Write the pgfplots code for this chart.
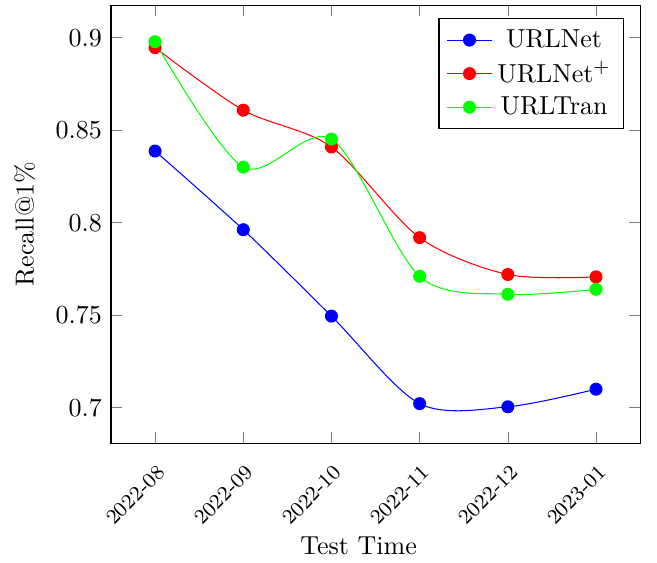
\documentclass[border=0pt]{standalone}
\usepackage{pgfplots}
\pgfplotsset{compat=1.18}
\begin{document}
\begin{tikzpicture}
\begin{axis}[
    scale only axis,
    width=203.5pt, height=168.5pt,
    xtick={0,1,2,3,4,5},
    xticklabels={2022-08,2022-09,2022-10,2022-11,2022-12,2023-01},
    xticklabel style={xshift=0.5pt, yshift=-3pt, rotate=45, anchor=north east,
        font=\footnotesize},
    ytick={0.7,0.75,0.8,0.85,0.9},
    yticklabels={0.7,0.75,0.8,0.85,0.9},
    xlabel={Test Time},
    xlabel style={xshift=-6.5pt, yshift=4pt},
    ylabel={Recall@1\%},
    ylabel shift=1pt,
    legend pos=north east,
    legend cell align=center,
]
\addplot[blue, smooth, mark=*, mark size=2.3pt] coordinates {
    (0,0.8387) (1,0.7962) (2,0.7495) (3,0.7022) (4,0.7005) (5,0.7100)};
\addlegendentry{URLNet}
\addplot[red, smooth, mark=*, mark size=2.3pt] coordinates {
    (0,0.8946) (1,0.8608) (2,0.8409) (3,0.7919) (4,0.7720) (5,0.7707)};
\addlegendentry{URLNet$^+$}
\addplot[green, smooth, mark=*, mark size=2.3pt] coordinates {
    (0,0.8978) (1,0.8300) (2,0.8452) (3,0.7710) (4,0.7613) (5,0.7640)};
\addlegendentry{URLTran}
\end{axis}
\pgfresetboundingbox
\path[use as bounding box] ([shift={(-42.7pt,-46pt)}]current axis.south west)
    rectangle ([shift={(6.5pt,2pt)}]current axis.north east);
\end{tikzpicture}
\end{document}
